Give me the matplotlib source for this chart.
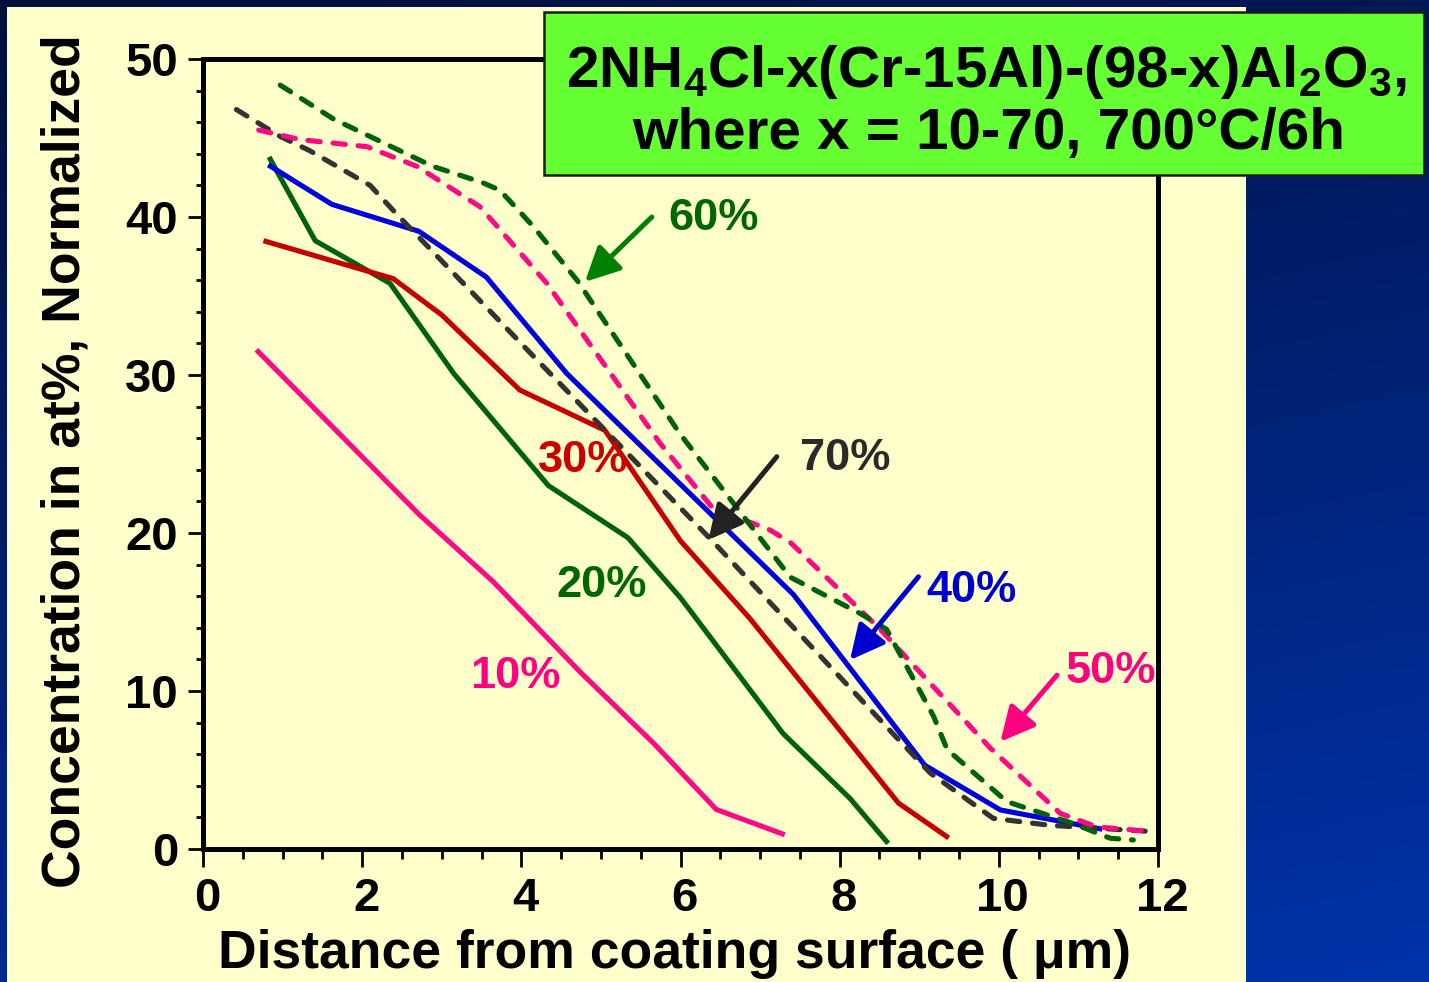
import numpy as np
import matplotlib
matplotlib.use('Agg')
import matplotlib.pyplot as plt
import matplotlib.transforms as mtransforms
from matplotlib.patches import Rectangle
from matplotlib import font_manager as fm

# ---------------- data ----------------
x10 = [0.67, 2.71, 3.65, 4.74, 5.66, 6.45, 7.31]
y10 = [31.6, 21.2, 16.9, 11.2, 6.7, 2.5, 0.9]

x20 = [0.83, 1.41, 2.35, 3.15, 4.34, 5.34, 6.0, 7.29, 8.13, 8.61]
y20 = [43.8, 38.5, 35.8, 30.1, 23.0, 19.7, 15.9, 7.3, 3.2, 0.35]

x30 = [0.76, 2.39, 3.0, 3.98, 5.05, 6.0, 6.87, 8.74, 9.37]
y30 = [38.5, 36.1, 33.8, 29.05, 26.5, 19.5, 14.6, 2.9, 0.7]

x40 = [0.82, 1.62, 2.71, 3.56, 4.57, 7.42, 9.07, 10.02, 11.3]
y40 = [43.3, 40.8, 39.1, 36.2, 30.1, 16.1, 5.3, 2.47, 1.25]

x50 = [0.7, 1.22, 2.06, 2.69, 3.48, 4.32, 5.74, 6.4, 7.12, 7.38, 8.51, 9.89, 10.77, 11.23, 11.94]
y50 = [45.5, 44.9, 44.45, 43.2, 40.65, 35.8, 25.7, 21.6, 20.2, 19.4, 13.9, 6.4, 2.26, 1.4, 1.1]

x60 = [0.97, 1.64, 2.18, 2.89, 3.5, 3.73, 4.15, 4.7, 5.99, 7.38, 8.26, 8.59, 9.18, 9.35, 10.1, 10.94, 11.4, 11.69]
y60 = [48.35, 46.2, 44.9, 43.2, 42.2, 41.7, 39.4, 36.0, 26.3, 17.2, 14.9, 13.9, 8.4, 6.3, 3.0, 1.6, 0.68, 0.57]

x70 = [0.42, 0.97, 1.34, 2.1, 2.43, 4.15, 6.39, 8.67, 9.14, 9.93, 10.64, 11.94]
y70 = [46.8, 45.1, 44.2, 42.0, 40.2, 31.2, 19.55, 7.3, 4.8, 1.94, 1.5, 1.1]

xticks = [0, 2, 4, 6, 8, 10, 12]
yticks = [0, 10, 20, 30, 40, 50]

title_line1 = "2NH$_4$Cl-x(Cr-15Al)-(98-x)Al$_2$O$_3$,"
title_line2 = "where x = 10-70, 700°C/6h"
xlabel = "Distance from coating surface ( \u03bcm)"
ylabel = "Concentration in at%, Normalized"

# ---------------- fonts ----------------
names = {f.name for f in fm.fontManager.ttflist}
NARROW = 'Liberation Sans Narrow' if 'Liberation Sans Narrow' in names else None
BASE = 'Liberation Sans'
TFONT = NARROW if NARROW else BASE
TSIZE = 51 if NARROW else 42
plt.rcParams['font.family'] = [BASE, 'DejaVu Sans']
plt.rcParams['font.weight'] = 'bold'
plt.rcParams['mathtext.fontset'] = 'custom'
plt.rcParams['mathtext.rm'] = f'{TFONT}:bold'
plt.rcParams['mathtext.bf'] = f'{TFONT}:bold'
plt.rcParams['mathtext.it'] = f'{TFONT}:bold'
plt.rcParams['mathtext.default'] = 'rm'

W, H = 1429, 982
fig = plt.figure(figsize=(W / 100, H / 100), dpi=100)

# background gradient
bax = fig.add_axes([0, 0, 1, 1], zorder=-10)
yy, xx = np.mgrid[0:1:200j, 0:1:200j]
t = 0.75 * yy + 0.25 * xx
c0 = np.array([0x00, 0x0e, 0x3a]) / 255
c1 = np.array([0x00, 0x33, 0xaa]) / 255
img = c0 + (c1 - c0) * t[..., None]
bax.imshow(img, extent=[0, 1, 0, 1], aspect='auto', origin='upper')
bax.axis('off')

# pale yellow panel
fig.add_artist(Rectangle((7 / W, 0), (1246 - 7) / W, (982 - 7) / H,
                         transform=fig.transFigure, fc='#ffffcc', ec='none', zorder=-5))

ax = fig.add_axes([203 / W, 1 - 849 / H, 955 / W, 790 / H])
ax.set_facecolor('#ffffcc')

lw = 3.7
dash = (0, (2.4, 2.5))
c_pink = '#ff0a84'
c_green = '#006010'
c_red = '#c40000'
c_blue = '#0000dd'
c_dark = '#333333'

ax.plot(x10, y10, color=c_pink, lw=lw, solid_capstyle='butt')
ax.plot(x20, y20, color=c_green, lw=lw, solid_capstyle='butt')
ax.plot(x30, y30, color=c_red, lw=lw, solid_capstyle='butt')
ax.plot(x40, y40, color=c_blue, lw=lw, solid_capstyle='butt')
ax.plot(x70, y70, color=c_dark, lw=lw, ls=dash, dash_capstyle='round')
ax.plot(x50, y50, color=c_pink, lw=lw, ls=dash, dash_capstyle='round')
ax.plot(x60, y60, color=c_green, lw=lw, ls=dash, dash_capstyle='round')

ax.set_xlim(0, 12)
ax.set_ylim(0, 50)
ax.set_xticks(xticks)
ax.set_yticks(yticks)
ax.set_xticks(np.arange(0, 12.01, 0.5), minor=True)
ax.set_yticks(np.arange(0, 50.01, 2), minor=True)
ax.tick_params(axis='x', which='major', direction='out', length=13, width=2, pad=7, labelsize=34)
ax.tick_params(axis='x', which='minor', direction='out', length=7, width=2)
ax.tick_params(axis='y', which='major', direction='out', length=11, width=2, pad=7, labelsize=34)
ax.tick_params(axis='y', which='minor', direction='out', length=5, width=2)
shift = mtransforms.ScaledTranslation(4 / 100, 0, fig.dpi_scale_trans)
for lab in ax.get_xticklabels():
    lab.set_fontweight('bold')
    lab.set_transform(lab.get_transform() + shift)
for lab in ax.get_yticklabels():
    lab.set_fontweight('bold')
for s in ax.spines.values():
    s.set_linewidth(3.6)
    s.set_color('black')

ax.set_xlabel(xlabel, fontsize=38.5, fontweight='bold')
ax.xaxis.set_label_coords((674 - 203) / 955, (849 - 968) / 790)
ax.xaxis.label.set_va('baseline')
ax.set_ylabel(ylabel, fontsize=38.5, fontweight='bold')
ax.yaxis.set_label_coords((66 - 203) / 955, (849 - 461) / 790)
ax.yaxis.label.set_va('center')
ax.yaxis.label.set_ha('center')

# labels + arrows
fs = 32.5
ax.text(6.42, 39.18, '60%', color='#006600', fontsize=fs, fontweight='bold', ha='center', va='baseline')
ax.text(8.07, 23.99, '70%', color='#2a2a2a', fontsize=fs, fontweight='bold', ha='center', va='baseline')
ax.text(4.775, 23.86, '30%', color='#cc0000', fontsize=fs, fontweight='bold', ha='center', va='baseline')
ax.text(5.01, 15.95, '20%', color='#006600', fontsize=fs, fontweight='bold', ha='center', va='baseline')
ax.text(3.92, 10.19, '10%', color='#ff0080', fontsize=fs, fontweight='bold', ha='center', va='baseline')
ax.text(9.66, 15.63, '40%', color='#0000cc', fontsize=fs, fontweight='bold', ha='center', va='baseline')
ax.text(11.41, 10.51, '50%', color='#ff0080', fontsize=fs, fontweight='bold', ha='center', va='baseline',
        clip_on=False)

astyle = '-|>,head_length=1.1,head_width=0.55'
def arrow(tail, head, color):
    ax.annotate('', xy=head, xytext=tail,
                arrowprops=dict(arrowstyle=astyle, lw=3.6, color=color,
                                shrinkA=0, shrinkB=0, mutation_scale=19))

arrow((5.64, 40.0), (4.80, 35.9), '#008000')
arrow((7.21, 24.83), (6.35, 19.56), '#222222')
arrow((8.99, 17.23), (8.13, 11.96), '#0000cc')
arrow((10.73, 11.0), (10.02, 6.79), '#ff0080')

# title box
fig.add_artist(Rectangle((544 / W, 1 - 175 / H), (1424 - 544) / W, (175 - 12) / H,
                         transform=fig.transFigure, fc='#66ff33', ec='#1a1a1a', lw=1.8, zorder=5))
b1 = 91 if NARROW else 87
b2 = 152 if NARROW else 149
fig.text(987 / W, 1 - b1 / H, title_line1, fontsize=TSIZE, fontfamily=TFONT, fontweight='bold',
         ha='center', va='baseline', zorder=6)
fig.text(989 / W, 1 - b2 / H, title_line2, fontsize=TSIZE, fontfamily=TFONT, fontweight='bold',
         ha='center', va='baseline', zorder=6)

fig.savefig('out.png', dpi=100)
